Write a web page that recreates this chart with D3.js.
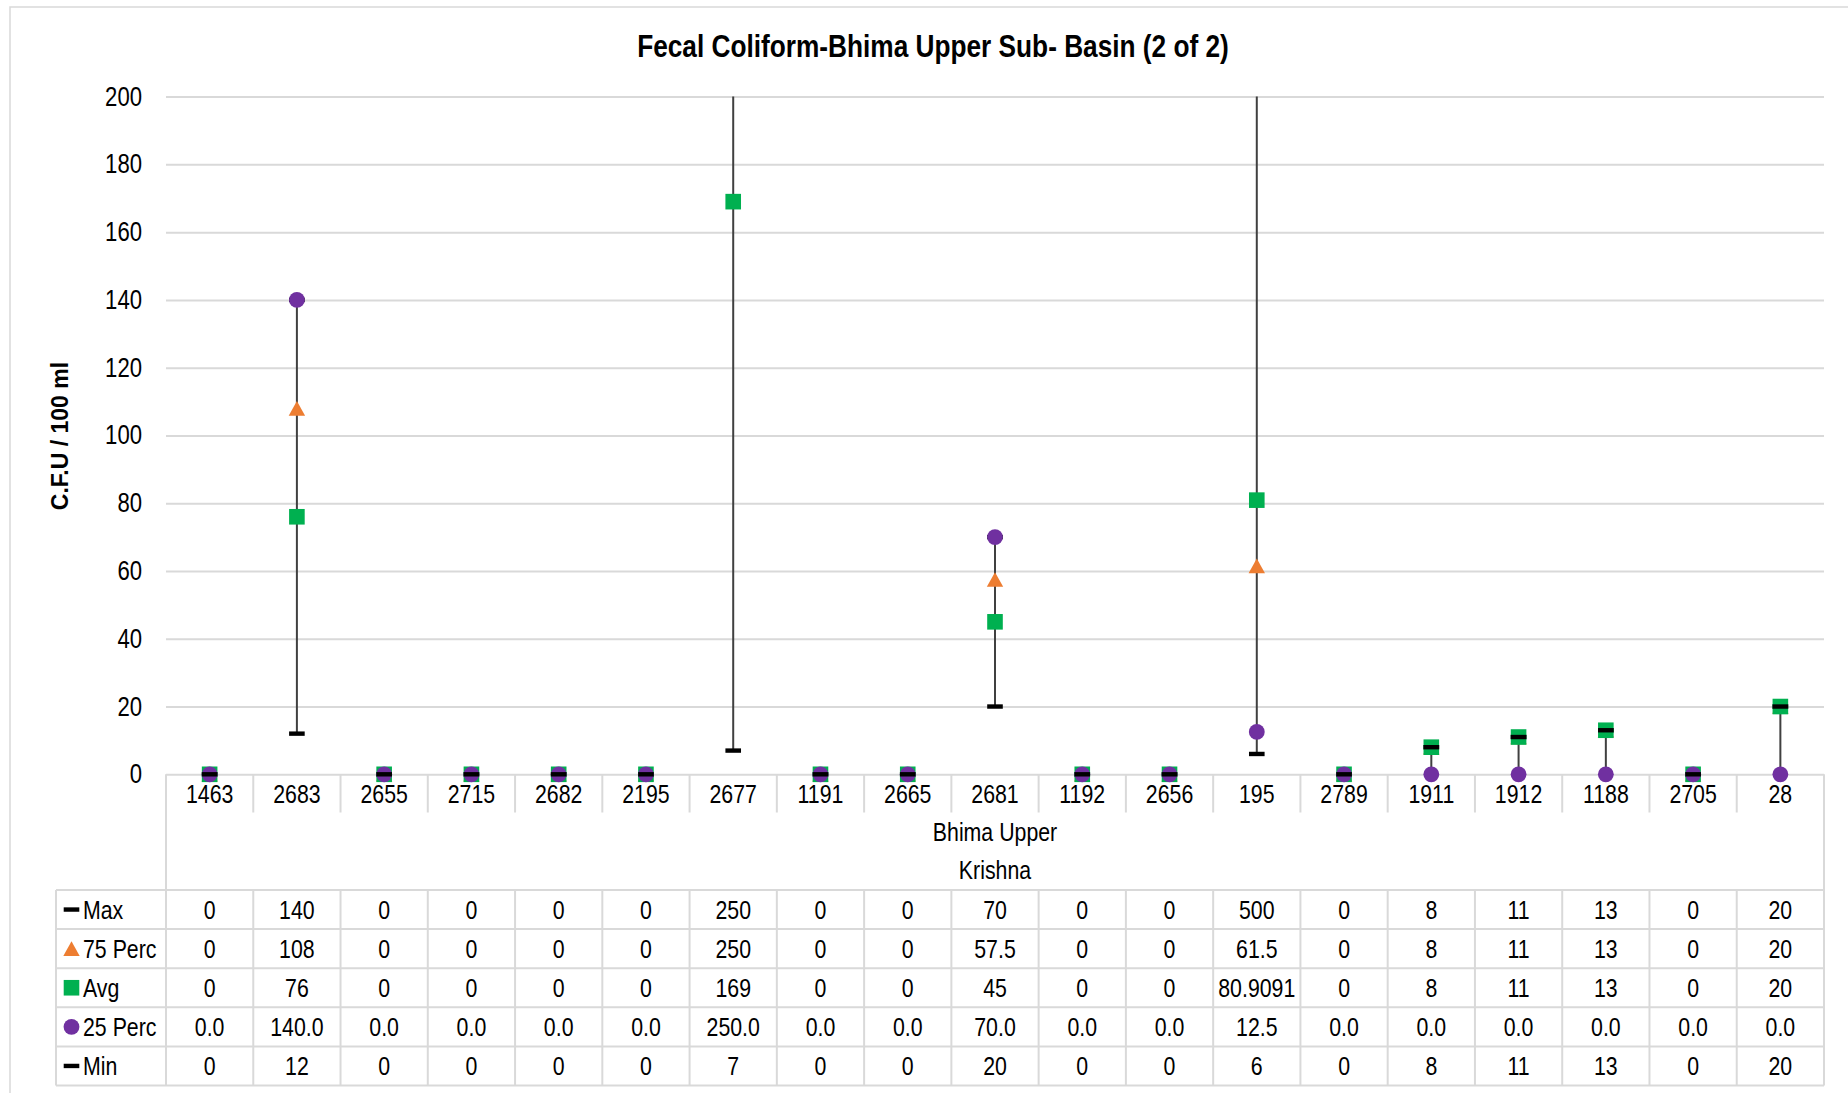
<!DOCTYPE html>
<html>
<head>
<meta charset="utf-8">
<script src="https://cdn.jsdelivr.net/npm/d3@7"></script>
<style>
  html, body { margin: 0; padding: 0; background: #fff; }
  svg { display: block; }
</style>
</head>
<body>
<svg id="chart" width="1848" height="1093"></svg>
<script>
// ---------- DATA ----------
const categories = ["1463","2683","2655","2715","2682","2195","2677","1191","2665","2681","1192","2656","195","2789","1911","1912","1188","2705","28"];
const groupLabel1 = "Bhima Upper";
const groupLabel2 = "Krishna";
const maxValues  = [0,140,0,0,0,0,250,0,0,70,0,0,500,0,8,11,13,0,20];
const p75Values  = [0,108,0,0,0,0,250,0,0,57.5,0,0,61.5,0,8,11,13,0,20];
const avgValues  = [0,76,0,0,0,0,169,0,0,45,0,0,80.9091,0,8,11,13,0,20];
const p25Values  = [0,140,0,0,0,0,250,0,0,70,0,0,12.5,0,0,0,0,0,0];
const minValues  = [0,12,0,0,0,0,7,0,0,20,0,0,6,0,8,11,13,0,20];
const yTicks = [0,20,40,60,80,100,120,140,160,180,200];
const titleText = "Fecal Coliform-Bhima Upper Sub- Basin (2 of 2)";
const yTitle = "C.F.U / 100 ml";

// ---------- FONT ----------
function fontAvailable(name) {
  const ctx = document.createElement("canvas").getContext("2d");
  const s = "Max 1463 Perc wwwlllmm";
  ctx.font = "40px monospace";
  const a = ctx.measureText(s).width;
  ctx.font = `40px '${name}', monospace`;
  return ctx.measureText(s).width !== a;
}
const narrow = fontAvailable("Liberation Sans Narrow");
const FONT = narrow ? "'Liberation Sans Narrow', 'Arial Narrow', sans-serif" : "'Liberation Sans', Arial, sans-serif";
const SX = narrow ? 1 : 0.82; // horizontal condense fallback

// ---------- LAYOUT ----------
const svg = d3.select("#chart");
const plotL = 166, plotR = 1824, plotT = 96.6, plotB = 774.3;
const tableL = 56, tableT = 890, rowH = 39.1;
const catRowB = 812.5;
const gridColor = "#d9d9d9";

const x = d3.scaleBand().domain(categories).range([plotL, plotR]).padding(0);
const y = d3.scaleLinear().domain([0, 200]).range([plotB, plotT]);

function txt(g, xx, yy, s, opts = {}) {
  return g.append("text")
    .attr("transform", `translate(${xx},${yy}) scale(${SX},1)`)
    .attr("font-family", FONT)
    .attr("font-size", opts.size || 26)
    .attr("font-weight", opts.bold ? "bold" : "normal")
    .attr("fill", opts.fill || "#000")
    .attr("text-anchor", opts.anchor || "middle")
    .text(s);
}

// outer chart border
svg.append("rect").attr("x", 10).attr("y", 7).attr("width", 1900).attr("height", 1200)
  .attr("fill", "none").attr("stroke", gridColor).attr("stroke-width", 1.5);

// title
txt(svg, 933, 57, titleText, { size: 32, bold: true });

// y-axis title
svg.append("text")
  .attr("transform", `translate(68,436) rotate(-90)`)
  .attr("font-family", FONT).attr("font-size", narrow ? 26 : 23).attr("font-weight", "bold")
  .attr("text-anchor", "middle").text(yTitle);

// y axis with gridlines
const yAxis = d3.axisLeft(y).tickValues(yTicks).tickSize(-(plotR - plotL)).tickPadding(0);
const gy = svg.append("g").attr("transform", `translate(${plotL},0)`).call(yAxis);
gy.select(".domain").remove();
gy.selectAll(".tick line").attr("stroke", gridColor).attr("stroke-width", 2);
gy.selectAll(".tick text").remove();
yTicks.forEach(v => {
  txt(svg, 142, y(v) + 9, String(v), { size: 27, anchor: "end" });
});

// category axis (level 1)
const xAxis = d3.axisBottom(x).tickSize(0).tickFormat(() => "");
const gx = svg.append("g").attr("transform", `translate(0,${plotB})`).call(xAxis);
gx.select(".domain").remove();
categories.forEach(c => {
  txt(svg, x(c) + x.bandwidth() / 2, plotB + 29, c, { size: 26 });
});
const bounds = categories.map(c => x(c)).concat([plotR]);
bounds.forEach((bx, i) => {
  const yEnd = (i === 0 || i === bounds.length - 1) ? tableT : catRowB;
  svg.append("line").attr("x1", bx).attr("x2", bx).attr("y1", plotB).attr("y2", yEnd)
    .attr("stroke", gridColor).attr("stroke-width", 2);
});
txt(svg, (plotL + plotR) / 2, 841, groupLabel1, { size: 26 });
txt(svg, (plotL + plotR) / 2, 879, groupLabel2, { size: 26 });

// ---------- TABLE ----------
const rows = [
  { name: "Max", vals: maxValues, fmt: v => String(v), sym: "dash", color: "#000" },
  { name: "75 Perc", vals: p75Values, fmt: v => String(v), sym: "tri", color: "#ED7D31" },
  { name: "Avg", vals: avgValues, fmt: v => String(v), sym: "sq", color: "#00B050" },
  { name: "25 Perc", vals: p25Values, fmt: v => v.toFixed(1), sym: "circ", color: "#7030A0" },
  { name: "Min", vals: minValues, fmt: v => String(v), sym: "dash", color: "#000" }
];
const tableB = tableT + rowH * rows.length;
const tg = svg.append("g");
for (let i = 0; i <= rows.length; i++) {
  const yy = tableT + rowH * i;
  tg.append("line").attr("x1", tableL).attr("x2", plotR).attr("y1", yy).attr("y2", yy)
    .attr("stroke", gridColor).attr("stroke-width", 2);
}
[tableL].concat(bounds).forEach(bx => {
  tg.append("line").attr("x1", bx).attr("x2", bx).attr("y1", tableT).attr("y2", tableB)
    .attr("stroke", gridColor).attr("stroke-width", 2);
});

function drawSymbol(g, kind, cx, cy, color) {
  if (kind === "dash") {
    g.append("rect").attr("x", cx - 7.8).attr("y", cy - 2.2).attr("width", 15.6).attr("height", 4.4).attr("fill", color);
  } else if (kind === "tri") {
    g.append("path").attr("d", `M${cx},${cy - 7.3} L${cx + 8.2},${cy + 7.3} L${cx - 8.2},${cy + 7.3} Z`).attr("fill", color);
  } else if (kind === "sq") {
    g.append("rect").attr("x", cx - 7.8).attr("y", cy - 7.8).attr("width", 15.6).attr("height", 15.6).attr("fill", color);
  } else if (kind === "circ") {
    g.append("circle").attr("cx", cx).attr("cy", cy).attr("r", 7.9).attr("fill", color);
  }
}

rows.forEach((r, i) => {
  const cy = tableT + rowH * i + rowH / 2;
  drawSymbol(tg, r.sym, 71.5, cy, r.color);
  txt(tg, 83, cy + 9, r.name, { size: 26, anchor: "start" });
  categories.forEach((c, j) => {
    txt(tg, x(c) + x.bandwidth() / 2, cy + 9, r.fmt(r.vals[j]), { size: 26 });
  });
});

// ---------- PLOT MARKS ----------
svg.append("clipPath").attr("id", "plotclip").append("rect")
  .attr("x", plotL).attr("y", plotT - 1).attr("width", plotR - plotL).attr("height", plotB - plotT + 12);
const pg = svg.append("g").attr("clip-path", "url(#plotclip)");

categories.forEach((c, j) => {
  const vals = rows.map(r => r.vals[j]);
  const lo = d3.min(vals), hi = d3.max(vals);
  if (hi > lo) {
    const cx = x(c) + x.bandwidth() / 2;
    pg.append("line").attr("x1", cx).attr("x2", cx)
      .attr("y1", y(Math.min(hi, 200))).attr("y2", y(lo))
      .attr("stroke", "#404040").attr("stroke-width", 2);
  }
});
rows.forEach(r => {
  categories.forEach((c, j) => {
    const v = r.vals[j];
    if (v > 200) return;
    drawSymbol(pg, r.sym, x(c) + x.bandwidth() / 2, y(v), r.color);
  });
});
</script>
</body>
</html>
